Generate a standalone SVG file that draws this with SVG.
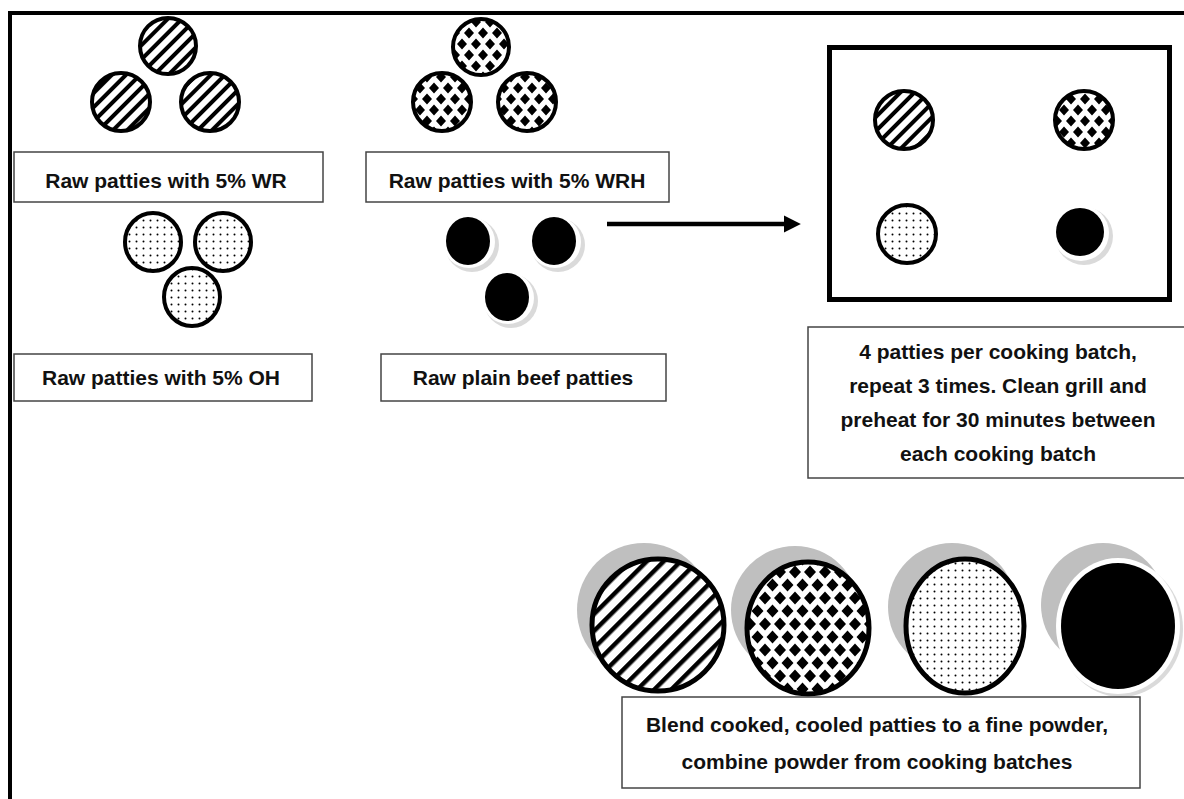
<svg xmlns="http://www.w3.org/2000/svg" width="1184" height="799" viewBox="0 0 1184 799">
<defs>
<pattern id="stripeS" width="10" height="10" patternUnits="userSpaceOnUse" patternTransform="rotate(45)"><rect width="10" height="10" fill="#fff"/><rect width="4" height="10" fill="#000"/></pattern>
<pattern id="stripeL" width="12" height="12" patternUnits="userSpaceOnUse" patternTransform="rotate(45)"><rect width="12" height="12" fill="#fff"/><rect width="4.5" height="12" fill="#000"/></pattern>
<pattern id="checkS" width="14" height="22" patternUnits="userSpaceOnUse"><rect width="14" height="22" fill="#fff"/><path d="M0 -5.5L5 0L0 5.5L-5 0Z M14 -5.5L19 0L14 5.5L9 0Z M7 5.5L12 11L7 16.5L2 11Z M0 16.5L5 22L0 27.5L-5 22Z M14 16.5L19 22L14 27.5L9 22Z" fill="#000"/></pattern>
<pattern id="checkL" width="15" height="26" patternUnits="userSpaceOnUse"><rect width="15" height="26" fill="#fff"/><path d="M0 -6.5L6 0L0 6.5L-6 0Z M15 -6.5L21 0L15 6.5L9 0Z M7.5 6.5L13.5 13L7.5 19.5L1.5 13Z M0 19.5L6 26L0 32.5L-6 26Z M15 19.5L21 26L15 32.5L9 26Z" fill="#000"/></pattern>
<pattern id="dots" width="7" height="7" patternUnits="userSpaceOnUse"><rect width="7" height="7" fill="#fff"/><circle cx="3.5" cy="3.5" r="1" fill="#000"/></pattern>
<marker id="arrow" markerWidth="4" markerHeight="4" refX="0.5" refY="1.9" orient="auto" markerUnits="strokeWidth"><path d="M0 0L3.8 1.9L0 3.8Z" fill="#000"/></marker>
</defs>
<style>
.lbl{fill:#fff;stroke:#444;stroke-width:1.5}
.t{font-family:"Liberation Sans",Arial,sans-serif;font-weight:bold;font-size:21px;fill:#111;text-anchor:middle}
.ps{stroke:#000;stroke-width:4}
.pl{stroke:#000;stroke-width:5}
.sh{fill:#bfbfbf}
.halo{fill:#dadada}
</style>
<rect width="1184" height="799" fill="#fff"/>
<g id="frame"><path d="M10 799V13H1184" fill="none" stroke="#000" stroke-width="4"/></g>

<g id="wr-raw">
<circle class="ps" cx="168" cy="46" r="28" fill="url(#stripeS)"/>
<circle class="ps" cx="121" cy="102" r="29" fill="url(#stripeS)"/>
<circle class="ps" cx="210" cy="102" r="29" fill="url(#stripeS)"/>
<rect class="lbl" x="14" y="152" width="309" height="50"/>
<text class="t" x="166" y="188">Raw patties with 5% WR</text>
</g>

<g id="wrh-raw">
<circle class="ps" cx="481" cy="47" r="28" fill="url(#checkS)"/>
<circle class="ps" cx="442" cy="102" r="29" fill="url(#checkS)"/>
<circle class="ps" cx="527" cy="102" r="29" fill="url(#checkS)"/>
<rect class="lbl" x="366" y="152" width="303" height="50"/>
<text class="t" x="517" y="188">Raw patties with 5% WRH</text>
</g>

<g id="oh-raw">
<ellipse class="ps" cx="153" cy="242" rx="28" ry="29" fill="url(#dots)"/>
<ellipse class="ps" cx="223" cy="242" rx="28" ry="29" fill="url(#dots)"/>
<ellipse class="ps" cx="192" cy="297" rx="28" ry="29" fill="url(#dots)"/>
<rect class="lbl" x="14" y="354" width="298" height="47"/>
<text class="t" x="161" y="385">Raw patties with 5% OH</text>
</g>

<g id="plain-raw">
<circle class="halo" cx="472" cy="245" r="27"/>
<circle cx="469" cy="242" r="26" fill="#fff"/>
<ellipse cx="468" cy="241" rx="22" ry="24" fill="#000"/>
<circle class="halo" cx="558" cy="245" r="27"/>
<circle cx="555" cy="242" r="26" fill="#fff"/>
<ellipse cx="554" cy="241" rx="22" ry="24" fill="#000"/>
<circle class="halo" cx="511" cy="301" r="27"/>
<circle cx="508" cy="298" r="26" fill="#fff"/>
<ellipse cx="507" cy="297" rx="22" ry="24" fill="#000"/>
<rect class="lbl" x="381" y="354" width="285" height="47"/>
<text class="t" x="523" y="385">Raw plain beef patties</text>
</g>

<g id="connectors">
<line x1="607" y1="224" x2="786" y2="224" stroke="#000" stroke-width="4.5" marker-end="url(#arrow)"/>
</g>

<g id="grill">
<rect x="829.5" y="47.5" width="340" height="252" fill="#fff" stroke="#000" stroke-width="5"/>
<circle class="ps" cx="904" cy="120" r="29" fill="url(#stripeS)"/>
<circle class="ps" cx="1084" cy="120" r="29" fill="url(#checkS)"/>
<circle class="ps" cx="907" cy="234" r="29" fill="url(#dots)"/>
<circle class="halo" cx="1084" cy="236" r="29"/>
<circle cx="1081" cy="233" r="28" fill="#fff"/>
<circle cx="1080" cy="232" r="24" fill="#000"/>
</g>

<g id="batch-note">
<rect class="lbl" x="808" y="327" width="382" height="151"/>
<text class="t" x="998" y="359">4 patties per cooking batch,</text>
<text class="t" x="998" y="393">repeat 3 times. Clean grill and</text>
<text class="t" x="998" y="427">preheat for 30 minutes between</text>
<text class="t" x="998" y="461">each cooking batch</text>
</g>

<g id="cooked">
<circle class="sh" cx="644" cy="610" r="67"/>
<circle class="pl" cx="658" cy="625" r="66" fill="url(#stripeL)"/>
<circle class="sh" cx="795" cy="610" r="64"/>
<ellipse class="pl" cx="808" cy="628" rx="61" ry="66" fill="url(#checkL)"/>
<circle class="sh" cx="952" cy="607" r="64"/>
<ellipse class="pl" cx="965" cy="626" rx="59" ry="67" fill="url(#dots)"/>
<circle class="sh" cx="1103" cy="605" r="62"/>
<ellipse class="halo" cx="1121" cy="629" rx="62" ry="68"/>
<ellipse cx="1118" cy="626" rx="62" ry="68" fill="#fff"/>
<ellipse cx="1118" cy="626" rx="57" ry="63" fill="#000"/>
</g>

<g id="blend-note">
<rect class="lbl" x="622" y="697" width="518" height="91"/>
<text class="t" x="877" y="732">Blend cooked, cooled patties to a fine powder,</text>
<text class="t" x="877" y="769">combine powder from cooking batches</text>
</g>
</svg>
